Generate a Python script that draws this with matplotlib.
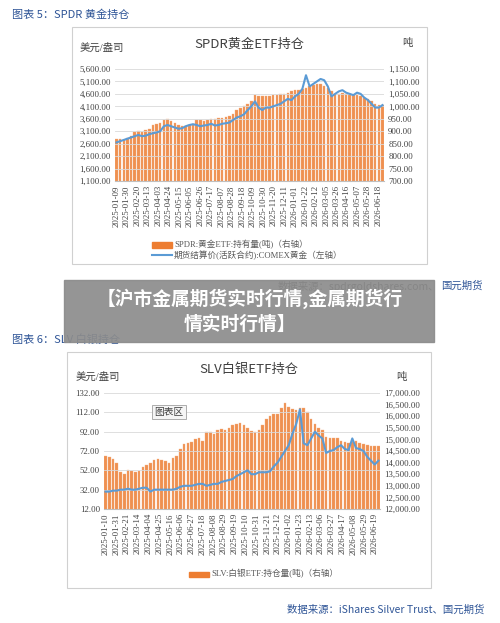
import matplotlib
matplotlib.use("Agg")
import matplotlib.pyplot as plt
from matplotlib.patches import Rectangle
import pandas as pd

plt.rcParams['font.family'] = ['Liberation Serif', 'Noto Sans CJK SC', 'DejaVu Sans']

gold_holdings = [870,868,865,872, 880,895,900,898, 905,910,925,930, 935,945,950,940, 935,925,920,920,
                 925,930,945,945, 943,945,948,950, 952,955,958,960, 970,985,995,1000, 1010,1020,1045,1040,
                 1040,1040,1042,1045,1045, 1048,1050,1055,1060, 1065,1065,1068,1075, 1080,1085,1090,1090,
                 1080,1075,1060,1050, 1050,1055,1050,1045, 1045,1045,1040,1035, 1030,1020,1010,1005,1005]
gold_price = [2650,2700,2750,2800, 2850,2900,2950,2900, 2920,2980,3020,3050, 3100,3300,3350,3300, 3250,3200,3220,3300,
              3350,3380,3350,3300, 3330,3350,3400,3330, 3350,3400,3420,3450, 3550,3650,3700,3780, 3950,4100,4300,4050,
              3950,4050,4050,4100,4150, 4200,4300,4400,4350, 4500,4600,4800,5350, 4900,5000,5100,5200,
              5150,4900,4500,4600, 4700,4750,4650,4600, 4550,4650,4600,4450, 4350,4200,4050,4050,4150]
gold_ticks = ["2025-01-09","2025-01-30","2025-02-20","2025-03-13","2025-04-03","2025-04-24","2025-05-15",
              "2025-06-05","2025-06-26","2025-07-17","2025-08-07","2025-08-28","2025-09-18","2025-10-09",
              "2025-10-30","2025-11-20","2025-12-11","2026-01-01","2026-01-22","2026-02-12","2026-03-05",
              "2026-03-26","2026-04-16","2026-05-07","2026-05-28","2026-06-18"]

silver_holdings = [14300,14250,14150,14000, 13600,13500,13700,13650, 13600,13650,13800,13900, 14000,14100,14150,14100,
                   14050,14000,14200,14300, 14600,14800,14850,14900, 15000,15050,14950,15300, 15300,15250,15400,15450,
                   15400,15500,15600,15650, 15700,15600,15500,15350, 15300,15400,15600,15900,16000, 16100,16100,16350,16550,
                   16400,16300,16250,16350, 16350,16200,15900,15650, 15500,15400,15100,15050, 15050,15050,14950,14900,
                   14850,14900,14950,14850, 14800,14750,14700,14700,14700]
silver_price = [30,30,31,31, 32,32,33,32, 32,33,34,34, 30,32,32,32, 32,32,32,33, 35,36,36,36, 37,38,38,36,
                37,38,38,40, 41,42,43,46, 48,50,52,48, 48,50,50,50,51, 56,60,66,72, 78,90,100,115,
                80,78,85,92, 88,85,70,72, 73,76,78,74, 73,85,75,74, 72,66,62,58,62]
silver_ticks = ["2025-01-10","2025-01-31","2025-02-21","2025-03-14","2025-04-04","2025-04-25","2025-05-16",
                "2025-06-06","2025-06-27","2025-07-18","2025-08-08","2025-08-29","2025-09-19","2025-10-10",
                "2025-10-31","2025-11-21","2025-12-12","2026-01-02","2026-01-23","2026-02-13","2026-03-06",
                "2026-03-27","2026-04-17","2026-05-08","2026-05-29","2026-06-19"]

W, H = 500, 623
fig = plt.figure(figsize=(5.0, 6.23), dpi=100)
fig.patch.set_facecolor('white')

def fx(x): return x / W
def fy(y): return 1 - y / H

BLUE = '#5B9BD5'
ORANGE = '#ED7D31'
HDR = '#2F5597'
TS = 6.3

def panel(box, axbox, title, lyl, ryl, lticks, rticks, lfmt, rfmt, hold, price, ticks, start, end, legend_items, legend_xy):
    x0, y0, x1, y1 = box
    fig.patches.append(Rectangle((fx(x0), fy(y1)), fx(x1 - x0), (y1 - y0) / H, transform=fig.transFigure,
                                 fill=False, edgecolor='#d0d0d0', lw=0.8))
    l, t, r, b = axbox
    ax = fig.add_axes([fx(l), fy(b), fx(r - l), (b - t) / H])
    tw = ax.twinx()
    dates = pd.date_range(start, end, periods=len(hold))
    tw.bar(dates, hold, width=5, color=ORANGE, alpha=0.85, edgecolor='#F4B183', linewidth=0.3)
    ax.plot(dates, price, color=BLUE, lw=1.5)
    ax.set_zorder(tw.get_zorder() + 1)
    ax.patch.set_visible(False)
    ax.set_ylim(lticks[0], lticks[-1]); ax.set_yticks(lticks)
    ax.set_yticklabels([lfmt.format(v) for v in lticks], fontsize=TS, color='#404040')
    tw.set_ylim(rticks[0], rticks[-1]); tw.set_yticks(rticks)
    tw.set_yticklabels([rfmt.format(v) for v in rticks], fontsize=TS, color='#404040')
    for a in (ax, tw):
        for s in a.spines.values(): s.set_visible(False)
        a.tick_params(length=0, pad=3)
    ax.spines['bottom'].set_visible(True); ax.spines['bottom'].set_color('#bfbfbf')
    for v in lticks:
        ax.axhline(v, color='#d9d9d9', lw=0.6, zorder=0)
    tpos = pd.to_datetime(ticks)
    ax.set_xticks(tpos)
    ax.set_xticklabels(ticks, rotation=90, fontsize=TS, color='#404040')
    ax.set_xlim(pd.Timestamp(ticks[0]) - pd.Timedelta(days=3), pd.Timestamp(end) + pd.Timedelta(days=3))
    fig.text(fx((x0 + x1) / 2), fy(title[1]), title[0], ha='center', va='center', fontsize=9.5,
             family=['Noto Sans CJK SC'], color='#404040')
    fig.text(fx(lyl[1]), fy(lyl[2]), lyl[0], ha='left', va='center', fontsize=7.5, color='#404040')
    fig.text(fx(ryl[1]), fy(ryl[2]), ryl[0], ha='left', va='center', fontsize=7.5, color='#404040')
    lx, ly = legend_xy
    for i, (kind, txt) in enumerate(legend_items):
        yy = ly + i * 10
        if kind == 'bar':
            fig.patches.append(Rectangle((fx(lx), fy(yy + 2.5)), fx(20), 5 / H, transform=fig.transFigure,
                                         color=ORANGE))
        else:
            fig.lines.append(plt.Line2D([fx(lx), fx(lx + 20)], [fy(yy), fy(yy)], transform=fig.transFigure,
                                        color=BLUE, lw=1.5))
        fig.text(fx(lx + 22), fy(yy), txt, ha='left', va='center', fontsize=6.2, color='#595959')
    return ax

fig.text(fx(12), fy(15), "图表 5：SPDR 黄金持仓", fontsize=8, color=HDR, family=['Noto Sans CJK SC'], va='center')
panel((72, 27, 427, 264), (115, 69, 384, 181), ("SPDR黄金ETF持仓", 44),
      ("美元/盎司", 80, 48), ("吨", 402, 43),
      list(range(1100, 5601, 500)), list(range(700, 1151, 50)), "{:,.2f}", "{:,.2f}",
      gold_holdings, gold_price, gold_ticks, "2025-01-09", "2026-06-26",
      [('bar', "SPDR:黄金ETF:持有量(吨)（右轴）"), ('line', "期货结算价(活跃合约):COMEX黄金（左轴）")], (152, 245))
fig.text(fx(278), fy(286), "数据来源：spdrgoldshares.com、", fontsize=7.5, color='#404040', family=['Noto Sans CJK SC'], va='center')
fig.text(fx(441), fy(286), "国元期货", fontsize=7.5, color=HDR, family=['Noto Sans CJK SC'], va='center')

fig.text(fx(12), fy(340), "图表 6：SLV 白银持仓", fontsize=8, color=HDR, family=['Noto Sans CJK SC'], va='center')
panel((67, 352, 431, 588), (104, 393, 380, 509), ("SLV白银ETF持仓", 369),
      ("美元/盎司", 76, 377), ("吨", 396, 377),
      list(range(12, 133, 20)), list(range(12000, 17001, 500)), "{:.2f}", "{:,.2f}",
      silver_holdings, silver_price, silver_ticks, "2025-01-10", "2026-06-26",
      [('bar', "SLV:白银ETF:持仓量(吨)（右轴）")], (189, 574))
fig.text(fx(154), fy(412), "图表区", fontsize=7, color='#404040', family=['Noto Sans CJK SC'], va='center',
         bbox=dict(boxstyle='square,pad=0.25', fc='#f5f5f5', ec='#a0a0a0', lw=0.6))
fig.text(fx(287), fy(610), "数据来源：iShares Silver Trust、国元期货", fontsize=7.5, color=HDR, family=['Noto Sans CJK SC'], va='center')

fig.patches.append(Rectangle((fx(64), fy(342)), fx(370), 62 / H, transform=fig.transFigure,
                             color='#8c8c8c', alpha=0.92, zorder=10))
fig.text(fx(250), fy(299), "【沪市金属期货实时行情,金属期货行", fontsize=13.5, color='white', weight='bold',
         family=['Noto Sans CJK SC'], ha='center', va='center', zorder=11)
fig.text(fx(240), fy(324), "情实时行情】", fontsize=13.5, color='white', weight='bold',
         family=['Noto Sans CJK SC'], ha='center', va='center', zorder=11)

fig.savefig("out.png", dpi=100)
